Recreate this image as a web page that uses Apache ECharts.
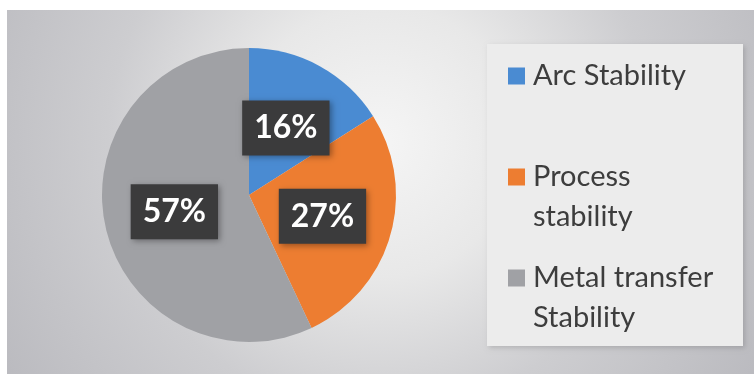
<!DOCTYPE html>
<html>
<head>
<meta charset="utf-8">
<script src="https://cdn.jsdelivr.net/npm/echarts@6/dist/echarts.min.js"></script>
<style>
  html, body { margin: 0; padding: 0; background: #ffffff; }
  #chart { width: 754px; height: 374px; }
</style>
</head>
<body>
<div id="chart"></div>
<script>
// Share of each stability category (percent)
const categories = ['Arc Stability', 'Process\nstability', 'Metal transfer\nStability'];
const shares = [16, 27, 57];
const sliceColors = ['#4a8bd2', '#ed7d31', '#a0a1a5'];

const chart = echarts.init(document.getElementById('chart'), null, { renderer: 'canvas' });

// Rich-text styles for legend: coloured square, spacer, text
const rich = {
  gap: { width: 8, height: 40 },
  pad: { width: 25, height: 40 },
  t: { fontFamily: 'Lato', fontSize: 29, color: '#3d3d3d', lineHeight: 40, height: 40 }
};
sliceColors.forEach((c, i) => {
  rich['sq' + i] = { width: 17, height: 17, backgroundColor: c };
});

function legendText(name) {
  const i = categories.indexOf(name);
  const lines = name.split('\n');
  const first = '{sq' + i + '|}{gap|}{t|' + lines[0] + '}';
  const second = '{pad|}{t|' + (lines[1] || '') + '}';
  return first + '\n' + second;
}

chart.setOption({
  animation: false,
  backgroundColor: '#ffffff',
  graphic: [
    {
      type: 'rect',
      z: -10,
      shape: { x: 7, y: 10, width: 747, height: 364 },
      style: {
        fill: {
          type: 'radial', x: 0.5, y: 0.36, r: 1.25,
          colorStops: [
            { offset: 0, color: '#f5f5f5' },
            { offset: 0.3, color: '#e8e8e8' },
            { offset: 0.6, color: '#cdcdd0' },
            { offset: 1, color: '#b9b9be' }
          ]
        }
      }
    },
    {
      type: 'rect',
      z: -9,
      shape: { x: 487, y: 44, width: 256, height: 302 },
      style: {
        fill: '#ececec',
        shadowColor: 'rgba(0,0,0,0.15)',
        shadowBlur: 5,
        shadowOffsetX: 2,
        shadowOffsetY: 2
      }
    }
  ],
  legend: {
    orient: 'vertical',
    left: 503,
    top: 56,
    padding: 0,
    itemGap: 21,
    itemWidth: 0,
    itemHeight: 0,
    selectedMode: false,
    data: categories,
    formatter: legendText,
    textStyle: { rich: rich, color: '#3d3d3d' }
  },
  series: [
    {
      type: 'pie',
      center: [249, 195],
      radius: 147,
      startAngle: 90,
      clockwise: true,
      avoidLabelOverlap: false,
      emphasis: { disabled: true },
      itemStyle: { borderWidth: 0 },
      label: {
        show: true,
        position: 'inside',
        formatter: (p) => p.value + '%',
        color: '#ffffff',
        fontFamily: 'Lato',
        fontWeight: 'bold',
        fontSize: 32,
        lineHeight: 33,
        backgroundColor: '#3b3b3c',
        padding: [11, 12],
        shadowColor: 'rgba(0,0,0,0.35)',
        shadowBlur: 6,
        shadowOffsetX: 2,
        shadowOffsetY: 2
      },
      labelLine: { show: false },
      data: categories.map((name, i) => ({
        name: name,
        value: shares[i],
        itemStyle: { color: sliceColors[i] }
      }))
    }
  ]
});
</script>
</body>
</html>
